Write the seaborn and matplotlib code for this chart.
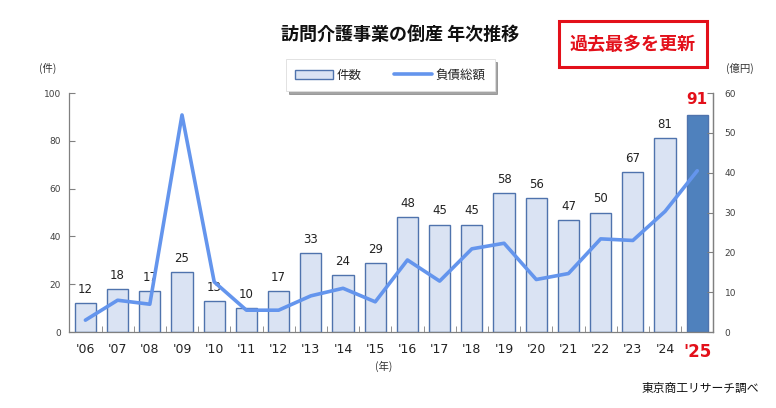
import numpy as np
import pandas as pd
import seaborn as sns
from matplotlib import pyplot as plt
from matplotlib.patches import Patch, Rectangle
from matplotlib.lines import Line2D
from matplotlib.ticker import FixedLocator

# data
years = ["'06", "'07", "'08", "'09", "'10", "'11", "'12", "'13", "'14", "'15",
         "'16", "'17", "'18", "'19", "'20", "'21", "'22", "'23", "'24", "'25"]
cases = [12, 18, 17, 25, 13, 10, 17, 33, 24, 29, 48, 45, 45, 58, 56, 47, 50, 67, 81, 91]
debt = [3.0, 8.0, 7.0, 54.5, 12.6, 5.5, 5.5, 9.1, 11.0, 7.6,
        18.1, 12.8, 20.9, 22.3, 13.2, 14.7, 23.4, 23.0, 30.3, 40.5]

df = pd.DataFrame({'year': years, 'cases': cases, 'debt': debt})
df['pos'] = np.arange(len(df))

sns.set_style('white')
plt.rcParams['font.family'] = ['DejaVu Sans', 'Noto Sans CJK JP']
jp = ['Noto Sans CJK JP', 'DejaVu Sans']

light = '#dae3f3'
edge = '#4f73ad'
dark = '#4f81bd'
line_c = '#6495ed'
red = '#e3101a'
gray = '#808080'

fig = plt.figure(figsize=(7.76, 4.08), dpi=100)
ax = fig.add_axes([0.0893, 0.186, 0.83, 0.586])

colors = [light] * (len(years) - 1) + [dark]
sns.barplot(data=df, x='year', y='cases', hue='year', palette=colors, legend=False,
            saturation=1, width=0.66, edgecolor=edge, linewidth=1.0, ax=ax)
ax.set_xlim(-0.5, len(years) - 0.5)
ax.set_ylim(0, 100)
ax.set_yticks([0, 20, 40, 60, 80, 100])
ax.set_xlabel('')
ax.set_ylabel('')

for i, v in enumerate(cases):
    if i == len(cases) - 1:
        ax.text(i, v + 3, str(v), ha='center', va='bottom', fontsize=11,
                fontweight='bold', color=red)
    else:
        ax.text(i, v + 3, str(v), ha='center', va='bottom', fontsize=8.5, color='#222222')

ax2 = ax.twinx()
sns.lineplot(data=df, x='pos', y='debt', color=line_c, linewidth=2.6, ax=ax2)
ax2.set_ylim(0, 60)
ax2.set_yticks([0, 10, 20, 30, 40, 50, 60])
ax2.set_xlim(-0.5, len(years) - 0.5)
ax2.set_xlabel('')
ax2.set_ylabel('')

for a in (ax, ax2):
    a.spines['top'].set_visible(False)
    for s in ['left', 'right', 'bottom']:
        a.spines[s].set_color(gray)
        a.spines[s].set_linewidth(0.9)
ax2.spines['left'].set_visible(False)
ax2.spines['bottom'].set_visible(False)

ax.tick_params(axis='y', direction='in', length=4, color=gray, labelsize=6.5,
               labelcolor='#404040', pad=6, left=True)
ax2.tick_params(axis='y', direction='in', length=4, color=gray, labelsize=6.5,
                labelcolor='#404040', pad=8, right=True)
ax.tick_params(axis='x', which='major', length=0, labelsize=9, pad=8, labelcolor='#222222')
ax.xaxis.set_minor_locator(FixedLocator(np.arange(0.5, len(years) - 1, 1.0)))
ax.tick_params(axis='x', which='minor', direction='in', length=4, color=gray, bottom=True)

ticks = ax.get_xticklabels()
ticks[-1].set_color(red)
ticks[-1].set_fontweight('bold')
ticks[-1].set_fontsize(12)

# texts around the plot
fig.text(0.515, 0.915, '訪問介護事業の倒産 年次推移', ha='center', va='center',
         fontsize=13, fontweight='bold', family=jp, color='#111111')
fig.text(0.815, 0.89, '過去最多を更新', ha='center', va='center', fontsize=13,
         fontweight='bold', family=jp, color=red)
fig.patches.append(Rectangle((0.721, 0.835), 0.19, 0.113, transform=fig.transFigure,
                             fill=False, edgecolor=red, linewidth=2.2))
fig.text(0.062, 0.833, '(件)', ha='center', va='center', fontsize=7.5, family=jp, color='#333333')
fig.text(0.953, 0.833, '(億円)', ha='center', va='center', fontsize=7.5, family=jp, color='#333333')
fig.text(0.494, 0.103, '(年)', ha='center', va='center', fontsize=7.5, family=jp, color='#333333')
fig.text(0.978, 0.048, '東京商工リサーチ調べ', ha='right', va='center', fontsize=8.5,
         family=jp, color='#111111')

handles = [Patch(facecolor=light, edgecolor=edge, linewidth=1.0),
           Line2D([0], [0], color=line_c, linewidth=2.6)]
leg = fig.legend(handles, ['件数', '負債総額'], loc='center', bbox_to_anchor=(0.503, 0.816),
                 ncol=2, frameon=True, shadow=True, fancybox=False,
                 prop={'family': jp, 'size': 9}, borderpad=0.75, columnspacing=2.6,
                 handlelength=3.0, handletextpad=0.3)
leg.get_frame().set_edgecolor('#dddddd')
leg.get_frame().set_linewidth(0.6)

fig.savefig('out.png', dpi=100)
